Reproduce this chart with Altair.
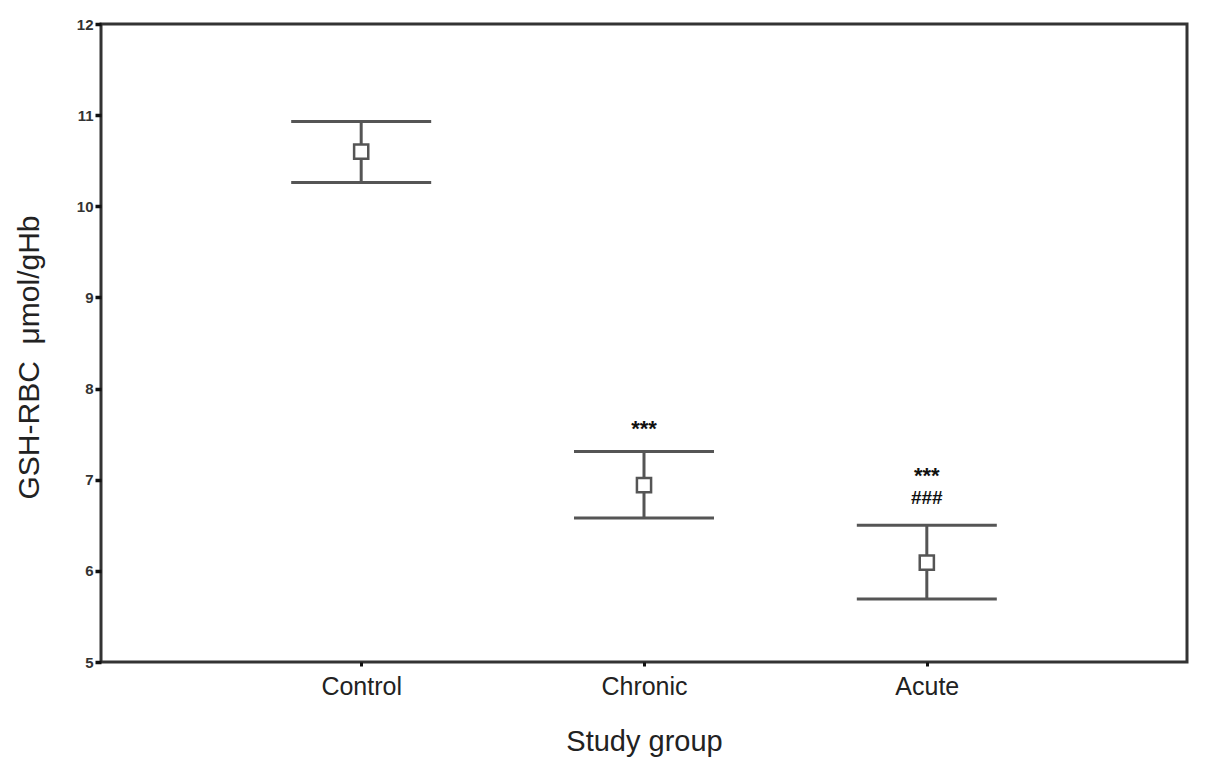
import altair as alt
import pandas as pd

groups = ["Control", "Chronic", "Acute"]
means = [10.60, 6.94, 6.09]
uppers = [10.93, 7.31, 6.50]
lowers = [10.26, 6.58, 5.69]
stars = ["", "***", "***"]
hashes = ["", "", "###"]

df = pd.DataFrame({"group": groups, "mean": means, "upper": uppers, "lower": lowers,
                   "stars": stars, "hashes": hashes})

FONT = "Liberation Sans"
GREY = "#555555"

x = alt.X("group:N", sort=groups, scale=alt.Scale(type="point", padding=0.92),
          axis=alt.Axis(title="Study group", labelAngle=0, labelFontSize=25, labelColor="#222",
                        titleFontSize=29, titleFontWeight="normal", titleColor="#222",
                        tickSize=4, tickWidth=3, tickColor="#111", labelPadding=8,
                        titlePadding=28, domain=False, grid=False))
y_scale = alt.Scale(domain=[5, 12], nice=False, zero=False)
y_axis = alt.Axis(title="GSH-RBC\u00a0 μmol/gHb", values=[5, 6, 7, 8, 9, 10, 11, 12], format="d",
                  labelFontSize=15, labelColor="#333", labelFontWeight="bold",
                  titleFontSize=30, titleFontWeight="normal", titleColor="#222",
                  tickSize=6, tickWidth=3.5, tickColor="#111", labelPadding=2,
                  titlePadding=32, titleY=333, domain=False, grid=False)

base = alt.Chart(df)
xs = alt.X("group:N", sort=groups)
rule = base.mark_rule(color=GREY, strokeWidth=3).encode(
    x=x, y=alt.Y("lower:Q", scale=y_scale, axis=y_axis), y2="upper:Q")
cap_hi = base.mark_tick(color=GREY, size=140, thickness=3, opacity=1).encode(x=xs, y="upper:Q")
cap_lo = base.mark_tick(color=GREY, size=140, thickness=3, opacity=1).encode(x=xs, y="lower:Q")
pts = base.mark_point(shape="square", size=200, filled=True, fill="white",
                      stroke=GREY, strokeWidth=2.5, opacity=1).encode(x=xs, y="mean:Q")

chronic = df[df["group"] == "Chronic"]
acute = df[df["group"] == "Acute"]
star_chronic = alt.Chart(chronic).mark_text(
    font=FONT, fontSize=22, fontWeight="bold", color="#111", dy=-22).encode(
    x=xs, y="upper:Q", text="stars:N")
star_acute = alt.Chart(acute).mark_text(
    font=FONT, fontSize=22, fontWeight="bold", color="#111", dy=-49).encode(
    x=xs, y="upper:Q", text="stars:N")
hash_txt = alt.Chart(acute).mark_text(
    font=FONT, fontSize=19, fontWeight="bold", color="#111", dy=-27).encode(
    x=xs, y="upper:Q", text="hashes:N")

chart = alt.layer(rule, cap_hi, cap_lo, pts, star_chronic, star_acute, hash_txt).properties(
    width=1086, height=638,
    background="white",
    autosize=alt.AutoSizeParams(type="none"),
    padding={"left": 93, "top": 16, "right": 10, "bottom": 97},
).configure_axis(labelFont=FONT, titleFont=FONT).configure_view(stroke="#333", strokeWidth=3)

chart.save("out.html", embed_options={"renderer": "svg", "actions": False})
